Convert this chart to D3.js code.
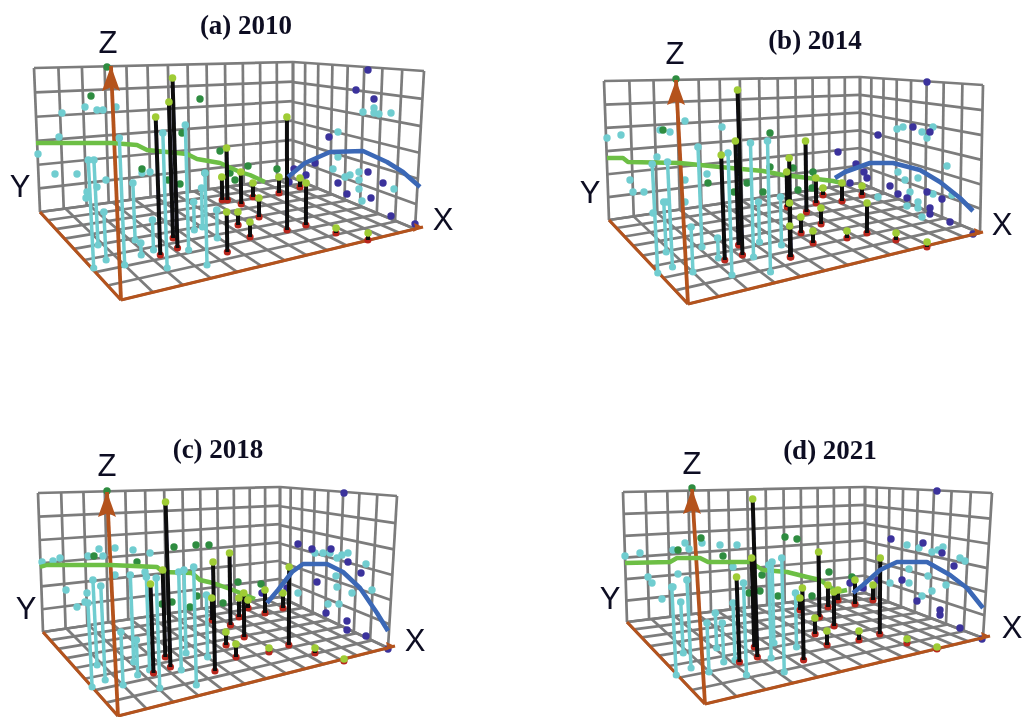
<!DOCTYPE html>
<html>
<head>
<meta charset="utf-8">
<title>3D scatter panels</title>
<script src="https://cdn.jsdelivr.net/npm/d3@7/dist/d3.min.js"></script>
<style>
    html, body { margin: 0; padding: 0; background: #fff; overflow: hidden; }
    svg { display: block; }
</style>
</head>
<body>
<div id="chart"></div>
<script>
const titles = ["(a) 2010", "(b) 2014", "(c) 2018", "(d) 2021"];
const gridCells = [13, 8, 6]; // along back wall, along side wall, rows

// corners: top left, floor left, origin, floor right, top right, back floor, back top
const cornersA = [[-86,232],[-80,88],[1,0],[295,71],[304,229],[173,122],[173,238]];
const cornersB = [[-86,219],[-81,80],[-2,-4],[290,67],[293,215],[170,117],[170,223]];
const cornersC = [[-82,227],[-77,88],[-2,4],[268,72],[277,224],[160,123],[160,233]];
const cornersD = [[-77,208],[-73,78],[5,-4],[283,62],[292,207],[165,107],[165,213]];

const zTips = [[-9,234],[-14,220],[-13,228],[-8,211]];
const xTips = [[303,73],[293,68],[275,74],[290,64]];

// stems: [along, top, base]
const cyanStemsA = [[-29,140,32],[-24,140,55],[-15,88,40],[2,162,35],[14,117,60],[21,57,45],[33,80,50],[45,167,32],[67,175,50],[74,98,70],[86,127,35],[82,112,73],[97,90,62]];
const blackStemsA = [[38,183,45],[55,222,52],[51,198,62],[107,152,100],[107,88,48],[102,123,100],[121,128,96],[118,88,75],[130,78,63],[167,183,70],[159,123,107],[186,117,75],[180,122,113],[133,117,103],[139,102,83],[216,72,67],[248,67,60]];
const cyanDotsA = [[-58,187],[-35,193],[-23,190],[-17,190],[-4,193],[-61,163],[-82,146],[-65,126],[-43,126],[-14,120],[-23,113],[-33,108],[-34,102],[22,127],[30,128],[243,188],[254,192],[254,187],[259,186],[271,187],[218,168],[218,143],[213,131],[225,123],[230,125],[239,128],[239,120],[239,111],[242,99],[274,111]];
const greenDotsA = [[-13,233],[-29,204],[80,201],[62,167],[22,131],[48,120],[60,116],[85,127],[100,149],[110,127],[115,120],[128,134],[157,131]];
const blueDotsA = [[248,230],[236,210],[254,201],[209,163],[195,137],[174,131],[186,125],[169,118],[248,128],[218,117],[263,117],[227,106],[251,102],[271,84],[295,76]];
const greenLineA = [[-84,157],[-8,157],[17,155],[27,150],[67,146],[77,141],[100,137],[120,128],[130,125],[145,118]];
const blueLineA = [[168,123],[185,137],[210,148],[243,149],[267,138],[283,128],[300,113]];

const cyanStemsB = [[-35,136,27],[-20,138,33],[-25,98,48],[10,153,53],[2,73,28],[28,62,42],[40,147,25],[62,157,43],[79,159,28],[69,98,58],[91,103,55]];
const blackStemsB = [[33,145,40],[50,210,45],[47,159,55],[100,142,43],[97,128,93],[100,97,43],[100,74,43],[116,159,88],[126,122,97],[133,112,105],[152,117,99],[172,114,105],[131,92,76],[111,83,67],[123,69,57],[157,69,62],[177,97,67],[206,67,60],[237,58,53]];
const cyanDotsB = [[-83,162],[-69,165],[-30,170],[-20,168],[-5,179],[32,173],[-33,143],[-60,120],[-57,108],[-46,108],[17,126],[-5,120],[-5,98],[-23,98],[-37,87],[207,171],[213,173],[232,168],[237,162],[243,173],[257,134],[208,128],[215,120],[228,122],[220,108],[243,106],[262,105],[188,103],[217,94],[228,98],[228,92],[232,83]];
const greenDotsB = [[-14,221],[-27,170],[80,167],[18,117],[57,117],[44,108],[73,108],[80,133],[103,132],[108,110],[123,128],[122,112]];
const blueDotsB = [[237,218],[223,173],[240,168],[188,165],[148,148],[166,136],[174,128],[177,122],[160,117],[200,114],[208,106],[217,102],[237,108],[252,101],[240,92],[240,86],[260,78],[283,66]];
const greenLineB = [[-83,142],[-67,142],[-62,138],[-10,137],[30,133],[73,129],[93,125],[110,123],[143,119],[152,117]];
const blueLineB = [[145,122],[155,128],[180,137],[203,137],[230,130],[250,118],[270,102],[283,89]];

const cyanStemsC = [[-25,140,55],[-30,117,33],[-17,134,40],[12,145,58],[2,88,35],[17,80,45],[28,143,50],[38,142,32],[60,148,50],[65,150,67],[75,153,35],[87,125,63]];
const blackStemsC = [[32,136,47],[48,218,53],[44,150,63],[94,158,49],[92,122,100],[110,167,95],[106,88,75],[116,76,63],[119,122,103],[124,127,83],[128,120,112],[145,130,107],[163,127,112],[169,153,75],[149,72,68],[195,72,67],[224,61,59]];
const cyanDotsC = [[-78,158],[-67,159],[-60,162],[-32,164],[-21,171],[-17,164],[-5,172],[13,170],[30,167],[-54,130],[-43,113],[-33,127],[-35,118],[-5,145],[25,148],[195,167],[203,167],[210,167],[217,162],[222,165],[228,167],[246,156],[216,144],[217,133],[232,127],[252,130],[178,127],[208,116],[219,116]];
const greenDotsC = [[-13,229],[-26,164],[17,158],[54,173],[76,175],[89,175],[52,118],[42,116],[70,113],[77,124],[103,117],[118,138],[141,136]];
const blueDotsC = [[224,227],[178,176],[192,171],[211,171],[228,158],[241,147],[197,138],[142,127],[167,132],[206,107],[227,99],[227,90],[246,84],[268,71]];
const greenLineC = [[-80,153],[-73,155],[-10,155],[37,153],[43,148],[72,147],[80,140],[93,137],[113,130],[125,125],[135,121]];
const blueLineC = [[147,117],[158,130],[172,148],[183,156],[207,156],[223,148],[240,132],[257,107],[268,89]];

const cyanStemsD = [[-26,113,25],[-18,98,47],[-11,120,32],[8,77,28],[16,87,52],[23,77,38],[34,97,40],[45,117,25],[70,135,42],[73,138,57],[83,142,28],[96,107,53]];
const blackStemsD = [[38,123,38],[55,201,43],[53,142,53],[103,112,40],[100,102,90],[119,148,83],[115,82,66],[128,115,93],[134,108,74],[138,110,100],[155,120,96],[173,115,100],[180,142,66],[127,69,55],[159,69,60],[207,61,57],[237,53,51]];
const cyanDotsD = [[-75,144],[-60,147],[-27,150],[-15,157],[-11,151],[2,157],[20,155],[37,155],[-52,123],[-48,117],[-38,101],[-22,126],[-27,113],[33,133],[207,155],[219,152],[232,148],[238,150],[243,153],[260,142],[265,139],[209,131],[228,124],[209,117],[190,117],[246,115],[232,109],[222,104]];
const greenDotsD = [[-8,212],[-22,150],[1,162],[23,144],[85,163],[97,161],[62,125],[60,109],[49,107],[78,104],[112,104],[129,128],[152,123]];
const blueDotsD = [[237,209],[191,161],[223,157],[242,147],[254,134],[202,120],[178,120],[163,112],[150,117],[217,99],[240,90],[240,85],[260,72],[282,61]];
const greenLineD = [[-75,137],[-30,138],[-23,142],[0,142],[8,138],[50,138],[63,130],[87,128],[107,123],[120,120],[137,108],[147,110]];
const blueLineD = [[153,107],[163,115],[180,130],[197,138],[227,138],[250,125],[267,112],[283,92]];

const wSvg = 1023;
const hSvg = 717;

const colors = {
    grid: "#7c7c7c",
    axis: "#b4521e",
    cyan: "#70cdd0",
    black: "#08080e",
    red: "#b8261c",
    lime: "#9fcc35",
    green: "#2e8c3f",
    blue: "#3a339c",
    greenLine: "#6dbf45",
    blueLine: "#3b67b6",
    text: "#0e0e22"
};

// unit square to quad, so the grids keep their perspective spacing
function quadMap(p0, p1, p2, p3){
    const dx1 = p1[0]-p2[0], dx2 = p3[0]-p2[0], sx = p0[0]-p1[0]+p2[0]-p3[0];
    const dy1 = p1[1]-p2[1], dy2 = p3[1]-p2[1], sy = p0[1]-p1[1]+p2[1]-p3[1];
    const den = dx1*dy2 - dx2*dy1;
    const g = (sx*dy2 - dx2*sy)/den;
    const h = (dx1*sy - sx*dy1)/den;
    return (u, v) => {
        const w = g*u + h*v + 1;
        return [
            ((p1[0]-p0[0]+g*p1[0])*u + (p3[0]-p0[0]+h*p3[0])*v + p0[0])/w,
            ((p1[1]-p0[1]+g*p1[1])*u + (p3[1]-p0[1]+h*p3[1])*v + p0[1])/w
        ];
    };
}

class Plot3d{
    constructor(parent, opts){
        this.parent = parent;
        Object.assign(this, opts);
        this.init();
    }

    init(){
        this.g = this.parent.append("g").classed("panel", true);
        this.prepScales();
        this.renderGrid();
        this.renderDots(this.cyanDots, colors.cyan, 3.7);
        this.renderDots(this.greenDots, colors.green, 3.7);
        this.renderDots(this.blueDots, colors.blue, 3.7);
        this.renderAxes();
        this.renderLine(this.greenLine, colors.greenLine, 4.4);
        this.renderStems(this.cyanStems, colors.cyan, 3.5, colors.cyan, colors.cyan);
        this.renderStems(this.blackStems, colors.black, 4, colors.red, colors.lime);
        this.renderLine(this.blueLine, colors.blueLine, 4.6);
        this.renderText();
    }

    prepScales(){
        this.x = d3.scaleLinear().domain([0, 300]).range([this.anchor[0], this.anchor[0] + 300]);
        this.z = d3.scaleLinear().domain([0, 240]).range([this.anchor[1], this.anchor[1] - 240]);
        const [, , o, r, , b] = this.corners;
        // verticals fan out slightly, away from the back corner
        this.lean = d3.scaleLinear().domain([o[0], b[0], r[0]]).range([-0.043, 0, 0.055]);
        this.path = d3.line().x(d => this.x(d[0])).y(d => this.z(d[1]));
    }

    renderGrid(){
        const [tl, l, o, r, tr, b, bt] = this.corners;
        const [nBack, nSide, nRows] = gridCells;
        const quads = [
            [quadMap(l, b, bt, tl), nBack, nRows],
            [quadMap(b, r, tr, bt), nSide, nRows],
            [quadMap(o, r, b, l), nBack, nSide]
        ];
        const segments = [];
        quads.forEach(([map, nu, nv]) => {
            d3.range(nu + 1).forEach(i => segments.push([map(i/nu, 0), map(i/nu, 1)]));
            d3.range(nv + 1).forEach(j => segments.push([map(0, j/nv), map(1, j/nv)]));
        });
        this.g.append("g").selectAll("path")
            .data(segments)
            .enter()
            .append("path")
                .attr("d", this.path)
                .attr("fill", "none")
                .attr("stroke", colors.grid)
                .attr("stroke-width", 2.7);
    }

    renderDots(data, color, r){
        this.g.append("g").selectAll("circle")
            .data(data)
            .enter()
            .append("circle")
                .attr("cx", d => this.x(d[0]))
                .attr("cy", d => this.z(d[1]))
                .attr("r", r)
                .attr("fill", color);
    }

    renderAxes(){
        const [, l, o] = this.corners;
        const axes = [[o, l], [o, this.xTip], [o, this.zTip]];
        this.g.append("g").selectAll("path")
            .data(axes)
            .enter()
            .append("path")
                .attr("d", this.path)
                .attr("fill", "none")
                .attr("stroke", colors.axis)
                .attr("stroke-width", (d, i) => i === 2 ? 3.8 : 3.1);

        // arrow heads
        const t = this.zTip;
        const head = [t, [t[0]+9, t[1]-25], [t[0]+1, t[1]-21], [t[0]-9, t[1]-25]];
        const s = this.xTip;
        const head2 = [s, [s[0]-10, s[1]-5], [s[0]-8, s[1]], [s[0]-9, s[1]+4]];
        this.g.append("g").selectAll("path")
            .data([head, head2])
            .enter()
            .append("path")
                .attr("d", d => this.path(d) + "Z")
                .attr("fill", colors.axis);
    }

    renderLine(data, color, width){
        this.g.append("path")
            .attr("d", this.path(data))
            .attr("fill", "none")
            .attr("stroke", color)
            .attr("stroke-width", width)
            .attr("stroke-linejoin", "round");
    }

    renderStems(data, color, width, baseColor, topColor){
        const topX = d => d[0] + this.lean(d[0])*(d[1]-d[2])/2;
        const baseX = d => d[0] - this.lean(d[0])*(d[1]-d[2])/2;
        const layer = this.g.append("g");

        layer.selectAll("circle.base")
            .data(data)
            .enter()
            .append("circle")
                .classed("base", true)
                .attr("cx", d => this.x(baseX(d)))
                .attr("cy", d => this.z(d[2]))
                .attr("r", 3.6)
                .attr("fill", baseColor);

        layer.selectAll("line")
            .data(data)
            .enter()
            .append("line")
                .attr("x1", d => this.x(topX(d)))
                .attr("y1", d => this.z(d[1]))
                .attr("x2", d => this.x(baseX(d)))
                .attr("y2", d => this.z(d[2]))
                .attr("stroke", color)
                .attr("stroke-width", width);

        layer.selectAll("circle.top")
            .data(data)
            .enter()
            .append("circle")
                .classed("top", true)
                .attr("cx", d => this.x(topX(d)))
                .attr("cy", d => this.z(d[1]))
                .attr("r", 3.8)
                .attr("fill", topColor);
    }

    renderText(){
        this.g.append("text")
            .attr("x", this.titlePos[0])
            .attr("y", this.titlePos[1])
            .attr("text-anchor", "middle")
            .attr("dominant-baseline", "central")
            .style("font", "bold 27px 'Liberation Serif'")
            .style("fill", colors.text)
            .text(this.title);

        this.g.append("g").selectAll("text")
            .data(this.labels)
            .enter()
            .append("text")
                .attr("x", d => d[1])
                .attr("y", d => d[2])
                .attr("text-anchor", "middle")
                .attr("dominant-baseline", "central")
                .style("font", "31px 'Liberation Sans'")
                .style("fill", colors.text)
                .text(d => d[0]);
    }
}

const svg = d3.select("#chart").append("svg")
    .attr("width", wSvg)
    .attr("height", hSvg)
    .attr("viewBox", `0 0 ${wSvg} ${hSvg}`);

// the source is a soft raster, a small blur gets closer to it
svg.append("defs").append("filter")
    .attr("id", "soft")
    .append("feGaussianBlur")
    .attr("stdDeviation", 0.5);

const root = svg.append("g").attr("filter", "url(#soft)");

new Plot3d(root, {
    title: titles[0], anchor: [120, 300], corners: cornersA, zTip: zTips[0], xTip: xTips[0],
    titlePos: [246, 25], labels: [["Z", 108, 42], ["Y", 20, 186], ["X", 443, 219]],
    cyanStems: cyanStemsA, blackStems: blackStemsA, cyanDots: cyanDotsA, greenDots: greenDotsA,
    blueDots: blueDotsA, greenLine: greenLineA, blueLine: blueLineA
});
new Plot3d(root, {
    title: titles[1], anchor: [690, 300], corners: cornersB, zTip: zTips[1], xTip: xTips[1],
    titlePos: [815, 40], labels: [["Z", 675, 53], ["Y", 590, 192], ["X", 1002, 224]],
    cyanStems: cyanStemsB, blackStems: blackStemsB, cyanDots: cyanDotsB, greenDots: greenDotsB,
    blueDots: blueDotsB, greenLine: greenLineB, blueLine: blueLineB
});
new Plot3d(root, {
    title: titles[2], anchor: [120, 720], corners: cornersC, zTip: zTips[2], xTip: xTips[2],
    titlePos: [218, 449], labels: [["Z", 107, 465], ["Y", 26, 608], ["X", 415, 640]],
    cyanStems: cyanStemsC, blackStems: blackStemsC, cyanDots: cyanDotsC, greenDots: greenDotsC,
    blueDots: blueDotsC, greenLine: greenLineC, blueLine: blueLineC
});
new Plot3d(root, {
    title: titles[3], anchor: [700, 700], corners: cornersD, zTip: zTips[3], xTip: xTips[3],
    titlePos: [830, 450], labels: [["Z", 692, 463], ["Y", 610, 598], ["X", 1012, 627]],
    cyanStems: cyanStemsD, blackStems: blackStemsD, cyanDots: cyanDotsD, greenDots: greenDotsD,
    blueDots: blueDotsD, greenLine: greenLineD, blueLine: blueLineD
});
</script>
</body>
</html>
